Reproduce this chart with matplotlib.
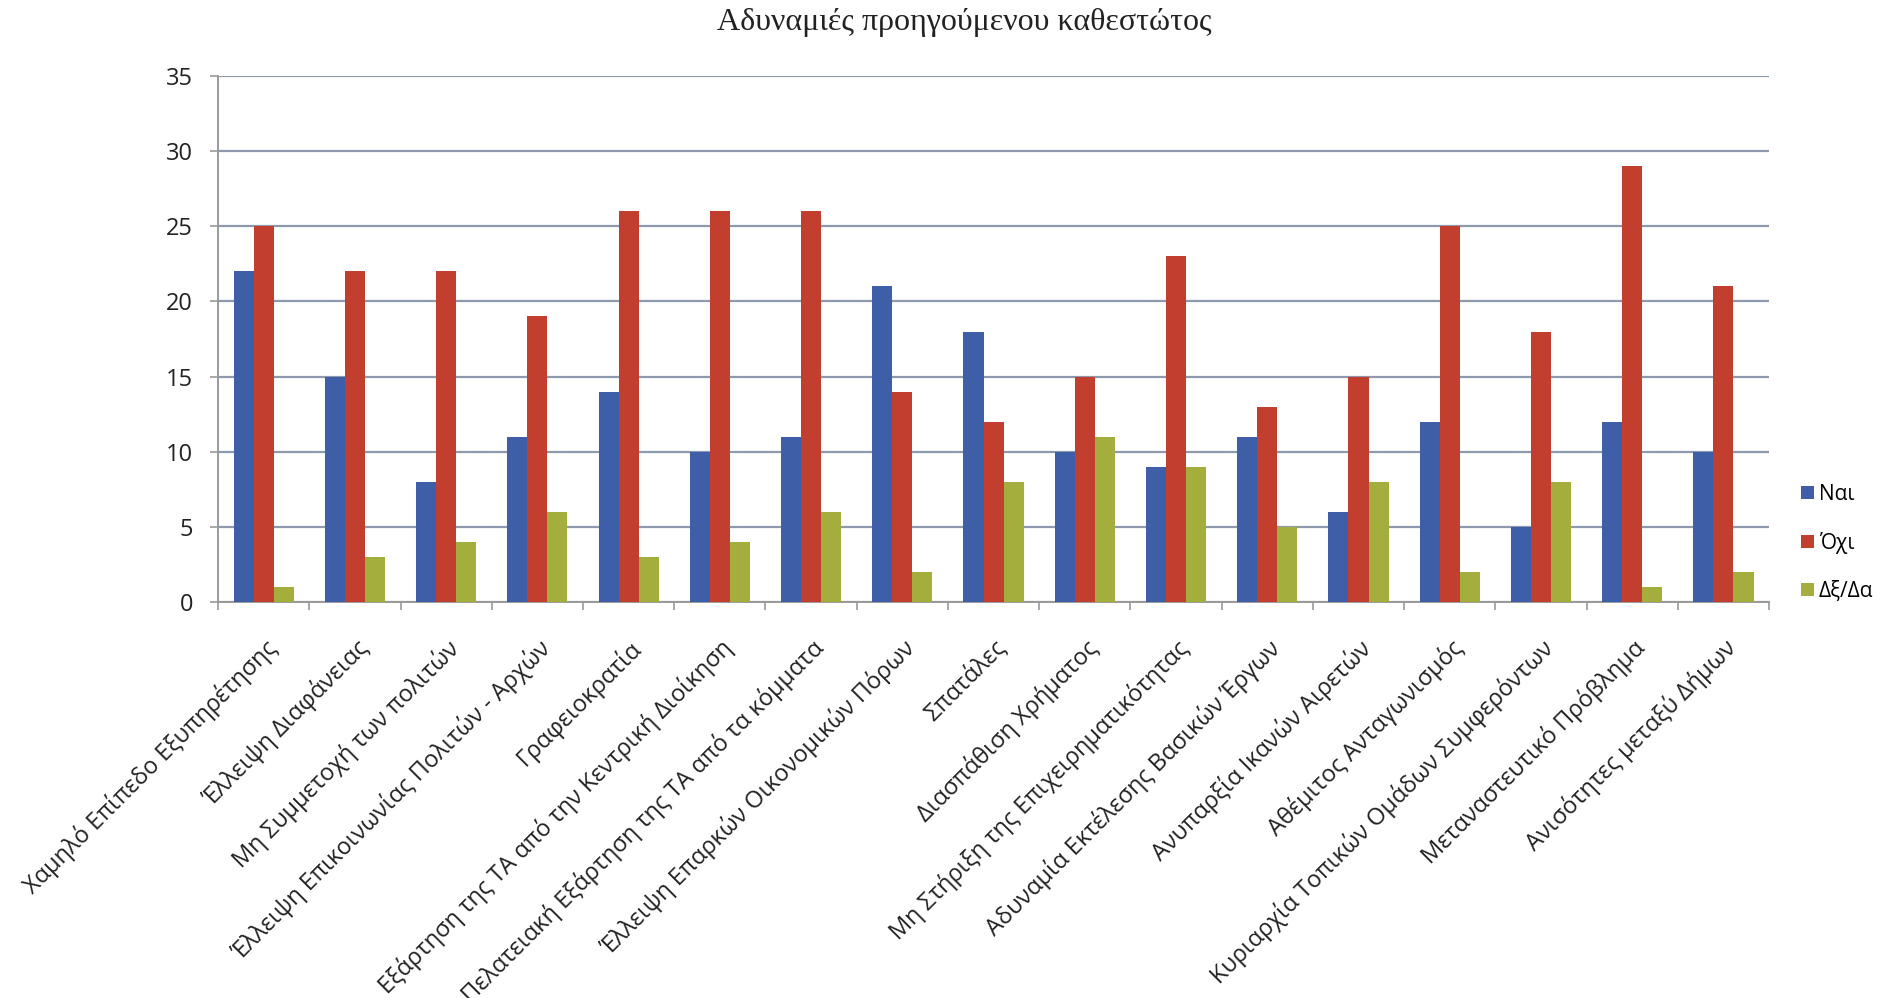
import numpy as np
import matplotlib
matplotlib.use("Agg")
import matplotlib.pyplot as plt

plt.rcParams['font.family'] = ['Open Sans', 'DejaVu Sans']

# categories and answers (Ναι / Όχι / Δξ/Δα)
categories = [
    "Χαμηλό Επίπεδο Εξυπηρέτησης",
    "Έλλειψη Διαφάνειας",
    "Μη Συμμετοχή των πολιτών",
    "Έλλειψη Επικοινωνίας Πολιτών - Αρχών",
    "Γραφειοκρατία",
    "Εξάρτηση της ΤΑ από την Κεντρική Διοίκηση",
    "Πελατειακή Εξάρτηση της ΤΑ από τα κόμματα",
    "Έλλειψη Επαρκών Οικονομικών Πόρων",
    "Σπατάλες",
    "Διασπάθιση Χρήματος",
    "Μη Στήριξη της Επιχειρηματικότητας",
    "Αδυναμία Εκτέλεσης Βασικών Έργων",
    "Ανυπαρξία Ικανών Αιρετών",
    "Αθέμιτος Ανταγωνισμός",
    "Κυριαρχία Τοπικών Ομάδων Συμφερόντων",
    "Μεταναστευτικό Πρόβλημα",
    "Ανισότητες μεταξύ Δήμων",
]
nai = [22, 15, 8, 11, 14, 10, 11, 21, 18, 10, 9, 11, 6, 12, 5, 12, 10]
oxi = [25, 22, 22, 19, 26, 26, 26, 14, 12, 15, 23, 13, 15, 25, 18, 29, 21]
dkda = [1, 3, 4, 6, 3, 4, 6, 2, 8, 11, 9, 5, 8, 2, 8, 1, 2]
series_names = ["Ναι", "Όχι", "Δξ/Δα"]
yticks = [0, 5, 10, 15, 20, 25, 30, 35]

colors = ["#3F5EA8", "#C23E2E", "#A3AE3C"]
grid_col = "#8F99AD"

fig = plt.figure(figsize=(19.01, 9.98), dpi=100)
ax = fig.add_axes([0.1147, 0.3968, 0.8159, 0.5270])

x = np.arange(len(categories))
w = 0.22
for i, (vals, name) in enumerate(zip([nai, oxi, dkda], series_names)):
    ax.bar(x + (i - 1) * w, vals, width=w, color=colors[i], label=name, zorder=3)

ax.set_xlim(-0.5, len(categories) - 0.5)
ax.set_ylim(0, 35)
ax.set_yticks(yticks)
ax.yaxis.grid(True, color=grid_col, linewidth=1.6, zorder=0)

for s in ["top", "right"]:
    ax.spines[s].set_visible(False)
for s in ["left", "bottom"]:
    ax.spines[s].set_color("#9A9A9A")
    ax.spines[s].set_linewidth(1.4)

# ticks between categories
ax.set_xticks(np.arange(len(categories) + 1) - 0.5, minor=False)
ax.set_xticklabels([])
ax.set_xticks(x, minor=True)
ax.set_xticklabels(categories, minor=True, rotation=45, ha="right",
                   rotation_mode="anchor", fontsize=17, color="#222222")
ax.tick_params(axis="x", which="major", length=6, color="#9A9A9A", width=1.2)
ax.tick_params(axis="x", which="minor", length=0, pad=24)
ax.tick_params(axis="y", length=6, color="#9A9A9A", width=1.2, pad=12,
               labelsize=17, labelcolor="#222222")

fig.text(0.5075, 0.977, "Αδυναμιές προηγούμενου καθεστώτος", ha="center", va="center",
         fontsize=23, family=["Liberation Serif", "DejaVu Serif"], color="#222222")

ax.legend(loc="center left", bbox_to_anchor=(0.942, 0.456), bbox_transform=fig.transFigure,
          frameon=False, fontsize=15, handlelength=0.6, handleheight=0.6,
          handletextpad=0.25, labelspacing=1.3, borderpad=0)

fig.savefig("out.png", dpi=100)
